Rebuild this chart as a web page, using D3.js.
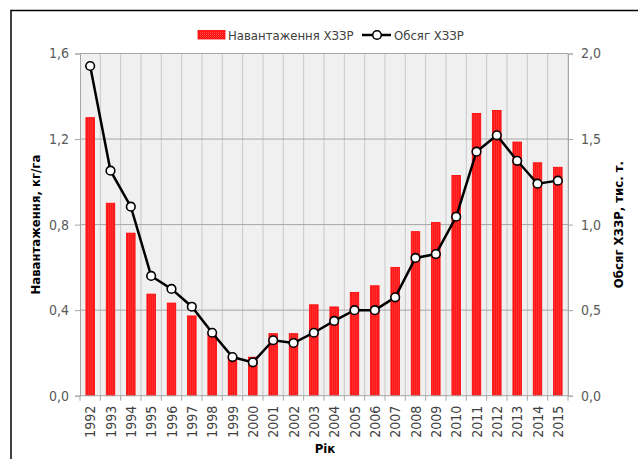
<!DOCTYPE html>
<html>
<head>
<meta charset="utf-8">
<script src="https://cdn.jsdelivr.net/npm/d3@7"></script>
<style>
  body { margin: 0; background: #fff; }
  svg text { font-family: "Liberation Sans Narrow", "DejaVu Sans Condensed", "Liberation Sans", sans-serif; }
</style>
</head>
<body>
<div id="chart"></div>
<script>
var years = ['1992','1993','1994','1995','1996','1997','1998','1999','2000','2001','2002','2003',
             '2004','2005','2006','2007','2008','2009','2010','2011','2012','2013','2014','2015'];
// Навантаження ХЗЗР, кг/га
var loadValues = [1.30, 0.90, 0.76, 0.475, 0.433, 0.373, 0.284, 0.18, 0.18, 0.29, 0.29, 0.425,
                  0.415, 0.483, 0.514, 0.60, 0.767, 0.81, 1.03, 1.32, 1.334, 1.186, 1.089, 1.068];
// Обсяг ХЗЗР, тис. т.
var volumeValues = [1.927, 1.315, 1.105, 0.70, 0.624, 0.52, 0.368, 0.226, 0.195, 0.324, 0.308, 0.368,
                    0.437, 0.50, 0.50, 0.575, 0.805, 0.828, 1.046, 1.426, 1.522, 1.373, 1.239, 1.257];
var leftTicks = [0, 0.4, 0.8, 1.2, 1.6];
var rightTicks = [0, 0.5, 1.0, 1.5, 2.0];

var width = 638, height = 459;
var margin = {left: 80, top: 53.5, right: 70, bottom: 63.3};
var plotW = width - margin.left - margin.right;
var plotH = height - margin.top - margin.bottom;
var fmt = function(d) { return d3.format('.1f')(d).replace('.', ','); };

var svg = d3.select('#chart').append('svg')
  .attr('width', width)
  .attr('height', height);

var defs = svg.append('defs');
var pat = defs.append('pattern')
  .attr('id', 'bar-fill')
  .attr('width', 2)
  .attr('height', 2)
  .attr('patternUnits', 'userSpaceOnUse');
pat.append('rect').attr('width', 2).attr('height', 2).attr('fill', '#ff0000');
pat.append('rect').attr('width', 1).attr('height', 1).attr('fill', '#ff5a5a');
pat.append('rect').attr('x', 1).attr('y', 1).attr('width', 1).attr('height', 1).attr('fill', '#ff3030');

// chart frame
svg.append('rect')
  .attr('x', 11).attr('y', 10.5)
  .attr('width', 640).attr('height', 460)
  .attr('fill', 'none')
  .attr('stroke', '#000')
  .attr('stroke-width', 1.5);

var x = d3.scaleBand().domain(years).range([0, plotW]).paddingInner(0).paddingOuter(0);
var yL = d3.scaleLinear().domain([0, 1.6]).range([plotH, 0]);
var yR = d3.scaleLinear().domain([0, 2.0]).range([plotH, 0]);

var g = svg.append('g').attr('transform', 'translate(' + margin.left + ',' + margin.top + ')');

g.append('rect')
  .attr('width', plotW).attr('height', plotH)
  .attr('fill', '#f0f0f0');

// vertical grid
g.selectAll('.vgrid').data(years)
  .enter().append('line')
  .attr('x1', function(d) { return x(d) + x.step(); })
  .attr('x2', function(d) { return x(d) + x.step(); })
  .attr('y1', 0).attr('y2', plotH)
  .attr('stroke', '#c8c8c8').attr('stroke-width', 1);

// horizontal grid
g.selectAll('.hgrid').data(leftTicks.slice(1))
  .enter().append('line')
  .attr('x1', 0).attr('x2', plotW)
  .attr('y1', function(d) { return yL(d); })
  .attr('y2', function(d) { return yL(d); })
  .attr('stroke', '#a6a6a6').attr('stroke-width', 1);

// bars
var barW = 8.5;
g.selectAll('.bar').data(loadValues)
  .enter().append('rect')
  .attr('x', function(d, i) { return x(years[i]) + x.bandwidth() / 2 - barW / 2; })
  .attr('y', function(d) { return yL(d); })
  .attr('width', barW)
  .attr('height', function(d) { return plotH - yL(d); })
  .attr('fill', 'url(#bar-fill)')
  .attr('stroke', '#ff0000')
  .attr('stroke-width', 0.8);

// line
var line = d3.line()
  .x(function(d, i) { return x(years[i]) + x.bandwidth() / 2; })
  .y(function(d) { return yR(d); });

g.append('path')
  .datum(volumeValues)
  .attr('d', line)
  .attr('fill', 'none')
  .attr('stroke', '#000')
  .attr('stroke-width', 2.5);

g.selectAll('.pt').data(volumeValues)
  .enter().append('circle')
  .attr('cx', function(d, i) { return x(years[i]) + x.bandwidth() / 2; })
  .attr('cy', function(d) { return yR(d); })
  .attr('r', 4.3)
  .attr('fill', '#fff')
  .attr('stroke', '#000')
  .attr('stroke-width', 1.6);

// axes
var leftAxis = d3.axisLeft(yL).tickValues(leftTicks).tickFormat(fmt).tickSize(5).tickPadding(6);
var rightAxis = d3.axisRight(yR).tickValues(rightTicks).tickFormat(fmt).tickSize(5).tickPadding(8);

var gl = g.append('g').call(leftAxis);
var gr = g.append('g').attr('transform', 'translate(' + plotW + ',0)').call(rightAxis);
[gl, gr].forEach(function(a) {
  a.select('.domain').attr('stroke', '#a6a6a6');
  a.selectAll('.tick line').attr('stroke', '#a6a6a6');
  a.selectAll('.tick text').attr('fill', '#595959').style('font-size', '14px')
    .style('font-family', '"Liberation Sans Narrow", "DejaVu Sans Condensed", sans-serif');
});

// bottom axis
var gb = g.append('g').attr('transform', 'translate(0,' + plotH + ')');
gb.append('line').attr('x1', 0).attr('x2', plotW).attr('stroke', '#a6a6a6');
gb.selectAll('.btick').data(d3.range(years.length + 1))
  .enter().append('line')
  .attr('x1', function(d) { return d * x.step(); })
  .attr('x2', function(d) { return d * x.step(); })
  .attr('y1', 0).attr('y2', 5)
  .attr('stroke', '#a6a6a6');
gb.selectAll('.ylabel').data(years)
  .enter().append('text')
  .attr('transform', function(d) {
    return 'translate(' + (x(d) + x.bandwidth() / 2 + 5) + ',10) rotate(-90)';
  })
  .attr('text-anchor', 'end')
  .attr('fill', '#404040')
  .style('font-size', '14px')
  .text(function(d) { return d; });

// axis titles
svg.append('text')
  .attr('transform', 'translate(40,' + (margin.top + plotH / 2) + ') rotate(-90)')
  .attr('text-anchor', 'middle')
  .style('font-size', '13px').style('font-weight', 'bold')
  .style('font-family', '"DejaVu Sans Condensed", "Liberation Sans", sans-serif')
  .text('Навантаження,  кг/га');

svg.append('text')
  .attr('transform', 'translate(623,' + (margin.top + plotH / 2) + ') rotate(-90)')
  .attr('text-anchor', 'middle')
  .style('font-size', '13px').style('font-weight', 'bold')
  .style('font-family', '"DejaVu Sans Condensed", "Liberation Sans", sans-serif')
  .text('Обсяг ХЗЗР, тис. т.');

svg.append('text')
  .attr('x', 325).attr('y', 453)
  .attr('text-anchor', 'middle')
  .style('font-size', '13px').style('font-weight', 'bold')
  .style('font-family', '"DejaVu Sans Condensed", "Liberation Sans", sans-serif')
  .text('Рік');

// legend
var lg = svg.append('g');
lg.append('rect')
  .attr('x', 198).attr('y', 30.5).attr('width', 27).attr('height', 8.5)
  .attr('fill', 'url(#bar-fill)').attr('stroke', '#ff0000').attr('stroke-width', 0.8);
lg.append('text')
  .attr('x', 228).attr('y', 39.5)
  .attr('fill', '#404040')
  .style('font-size', '13px')
  .text('Навантаження ХЗЗР');
lg.append('line')
  .attr('x1', 362).attr('x2', 391).attr('y1', 35).attr('y2', 35)
  .attr('stroke', '#000').attr('stroke-width', 2.5);
lg.append('circle')
  .attr('cx', 377).attr('cy', 35).attr('r', 4.3)
  .attr('fill', '#fff').attr('stroke', '#000').attr('stroke-width', 1.6);
lg.append('text')
  .attr('x', 394).attr('y', 39.5)
  .attr('fill', '#404040')
  .style('font-size', '13px')
  .text('Обсяг ХЗЗР');
</script>
</body>
</html>
